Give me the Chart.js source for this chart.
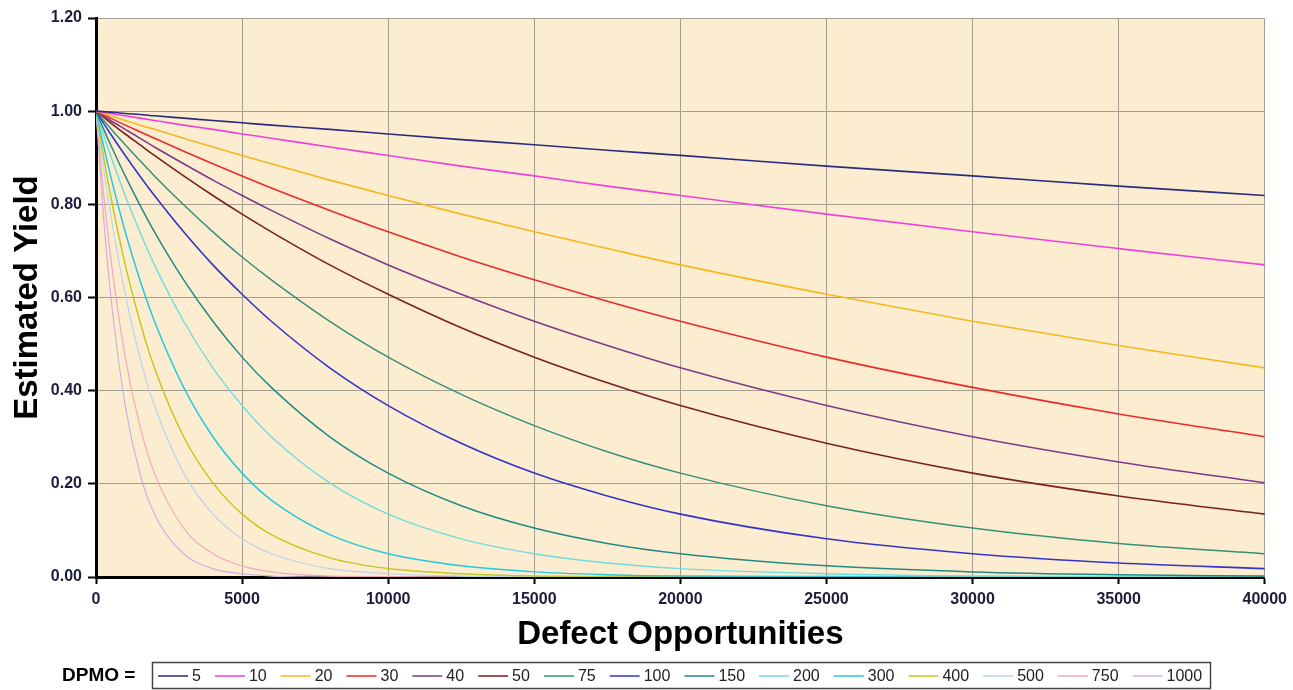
<!DOCTYPE html>
<html>
<head>
<meta charset="utf-8">
<script src="https://cdn.jsdelivr.net/npm/chart.js@4.4.0/dist/chart.umd.min.js"></script>
<style>
  body { margin: 0; background: #fff; }
  #wrap { width: 1293px; height: 690px; }
</style>
</head>
<body>
<div id="wrap"><canvas id="miGrafico" width="1293" height="690"></canvas></div>
<script>
// defect opportunities sampled along the x axis
const defectOpps = [0, 250, 500, 1000, 1500, 2000, 3000, 4000, 5000, 6000, 8000, 10000, 12500, 15000, 17500, 20000, 25000, 30000, 35000, 40000];

const dpmoLabels = ['5', '10', '20', '30', '40', '50', '75', '100', '150', '200', '300', '400', '500', '750', '1000'];

// estimated yield
const yield5    = [1, .999, .998, .995, .993, .990, .985, .980, .975, .970, .961, .951, .939, .928, .916, .905, .882, .861, .839, .819];
const yield10   = [1, .998, .995, .990, .985, .980, .970, .961, .951, .942, .923, .905, .882, .861, .839, .819, .779, .741, .705, .670];
const yield20   = [1, .995, .990, .980, .970, .961, .942, .923, .905, .887, .852, .819, .779, .741, .705, .670, .607, .549, .497, .449];
const yield30   = [1, .993, .985, .970, .956, .942, .914, .887, .861, .835, .787, .741, .687, .638, .592, .549, .472, .407, .350, .301];
const yield40   = [1, .990, .980, .961, .942, .923, .887, .852, .819, .787, .726, .670, .607, .549, .497, .449, .368, .301, .247, .202];
const yield50   = [1, .988, .975, .951, .928, .905, .861, .819, .779, .741, .670, .607, .535, .472, .417, .368, .287, .223, .174, .135];
const yield75   = [1, .981, .963, .928, .894, .861, .799, .741, .687, .638, .549, .472, .392, .325, .269, .223, .153, .105, .072, .050];
const yield100  = [1, .975, .951, .905, .861, .819, .741, .670, .607, .549, .449, .368, .287, .223, .174, .135, .082, .050, .030, .018];
const yield150  = [1, .963, .928, .861, .799, .741, .638, .549, .472, .407, .301, .223, .153, .105, .072, .050, .024, .011, .005, .002];
const yield200  = [1, .951, .905, .819, .741, .670, .549, .449, .368, .301, .202, .135, .082, .050, .030, .018, .007, .002, .001, 0];
const yield300  = [1, .928, .861, .741, .638, .549, .407, .301, .223, .165, .091, .050, .024, .011, .005, .002, .001, 0, 0, 0];
const yield400  = [1, .905, .819, .670, .549, .449, .301, .202, .135, .091, .041, .018, .007, .002, .001, 0, 0, 0, 0, 0];
const yield500  = [1, .882, .779, .607, .472, .368, .223, .135, .082, .050, .018, .007, .002, .001, 0, 0, 0, 0, 0, 0];
const yield750  = [1, .829, .687, .472, .325, .223, .105, .050, .024, .011, .002, .001, 0, 0, 0, 0, 0, 0, 0, 0];
const yield1000 = [1, .779, .607, .368, .223, .135, .050, .018, .007, .002, 0, 0, 0, 0, 0, 0, 0, 0, 0, 0];

const seriesValues = [yield5, yield10, yield20, yield30, yield40, yield50, yield75, yield100,
  yield150, yield200, yield300, yield400, yield500, yield750, yield1000];

const lineColors = ['#2c2c7c', '#f040dc', '#f5b81c', '#ec2a2a', '#7e3a86', '#7a1f22', '#35907a', '#3434c8',
  '#218a84', '#70dcdc', '#26c8dc', '#c4c820', '#b8d4ee', '#f0a8c0', '#cdb0e0'];
const lineWidths = [1.6, 1.6, 1.6, 1.6, 1.6, 1.6, 1.5, 1.6, 1.5, 1.4, 1.5, 1.5, 1.2, 1.2, 1.2];

const yTicks = [0, 0.2, 0.4, 0.6, 0.8, 1.0, 1.2];

const FONT = '"Liberation Sans", Arial, sans-serif';

const plotBackground = {
    id: 'plotBackground',
    beforeDraw(chart) {
        const a = chart.chartArea;
        const ctx = chart.ctx;
        ctx.save();
        ctx.fillStyle = '#fdedd0';
        ctx.fillRect(a.left, a.top, a.right - a.left, a.bottom - a.top);
        ctx.restore();
    }
};

// legend row at the bottom, framed, with "DPMO =" in front
const legendBox = {
    id: 'legendBox',
    afterDraw(chart) {
        const ctx = chart.ctx;
        const y = 676;
        ctx.save();
        ctx.textBaseline = 'middle';
        ctx.textAlign = 'left';
        ctx.fillStyle = '#000';
        ctx.font = 'bold 19px ' + FONT;
        ctx.fillText('DPMO =', 62, y);
        ctx.strokeStyle = '#444';
        ctx.lineWidth = 1.5;
        ctx.strokeRect(152.5, 662.5, 1058, 26);
        ctx.font = '16px ' + FONT;
        let x = 158;
        chart.data.datasets.forEach(function (ds) {
            ctx.strokeStyle = ds.borderColor;
            ctx.lineWidth = 1.5;
            ctx.beginPath();
            ctx.moveTo(x, y);
            ctx.lineTo(x + 30, y);
            ctx.stroke();
            ctx.fillStyle = '#222';
            ctx.fillText(ds.label, x + 34, y + 1);
            x += 34 + ctx.measureText(ds.label).width + 14;
        });
        ctx.restore();
    }
};

const datasets = dpmoLabels.map(function (lab, i) {
    return {
        label: lab,
        data: defectOpps.map(function (x, j) { return { x: x, y: seriesValues[i][j] }; }),
        borderColor: lineColors[i],
        backgroundColor: lineColors[i],
        borderWidth: lineWidths[i],
        pointRadius: 0,
        cubicInterpolationMode: 'monotone',
        fill: false
    };
});

let graficaLinea = new Chart(document.getElementById('miGrafico'), {
    type: 'line',
    data: { datasets: datasets },
    plugins: [plotBackground, legendBox],
    options: {
        responsive: false,
        animation: false,
        events: [],
        layout: { padding: { top: 18, right: 25, left: 0, bottom: 35 } },
        plugins: {
            legend: { display: false },
            tooltip: { enabled: false }
        },
        scales: {
            x: {
                type: 'linear',
                min: 0,
                max: 40000,
                afterFit: function (s) { s.height = 78; },
                ticks: {
                    stepSize: 5000,
                    padding: 6,
                    color: '#1c1c3c',
                    font: { family: FONT, size: 16, weight: 'bold' },
                    callback: function (v) { return String(v); },
                    maxRotation: 0
                },
                grid: { color: '#a39d92', lineWidth: 1, tickColor: '#000', tickLength: 7, tickWidth: 2 },
                border: { color: '#000', width: 3 },
                title: {
                    display: true,
                    text: 'Defect Opportunities',
                    color: '#000',
                    padding: { top: 0, bottom: 0 },
                    font: { family: FONT, size: 33, weight: 'bold' }
                }
            },
            y: {
                min: 0,
                max: 1.2,
                afterFit: function (s) { s.width = 96; },
                afterBuildTicks: function (s) { s.ticks = yTicks.map(function (v) { return { value: v }; }); },
                ticks: {
                    padding: 6,
                    color: '#1c1c3c',
                    font: { family: FONT, size: 16, weight: 'bold' },
                    callback: function (v) { return Number(v).toFixed(2); }
                },
                grid: { color: '#a39d92', lineWidth: 1, tickColor: '#000', tickLength: 8, tickWidth: 2 },
                border: { color: '#000', width: 3 },
                title: {
                    display: true,
                    text: 'Estimated Yield',
                    color: '#000',
                    padding: { top: 8, bottom: 0 },
                    font: { family: FONT, size: 33, weight: 'bold' }
                }
            }
        }
    }
});
</script>
</body>
</html>
